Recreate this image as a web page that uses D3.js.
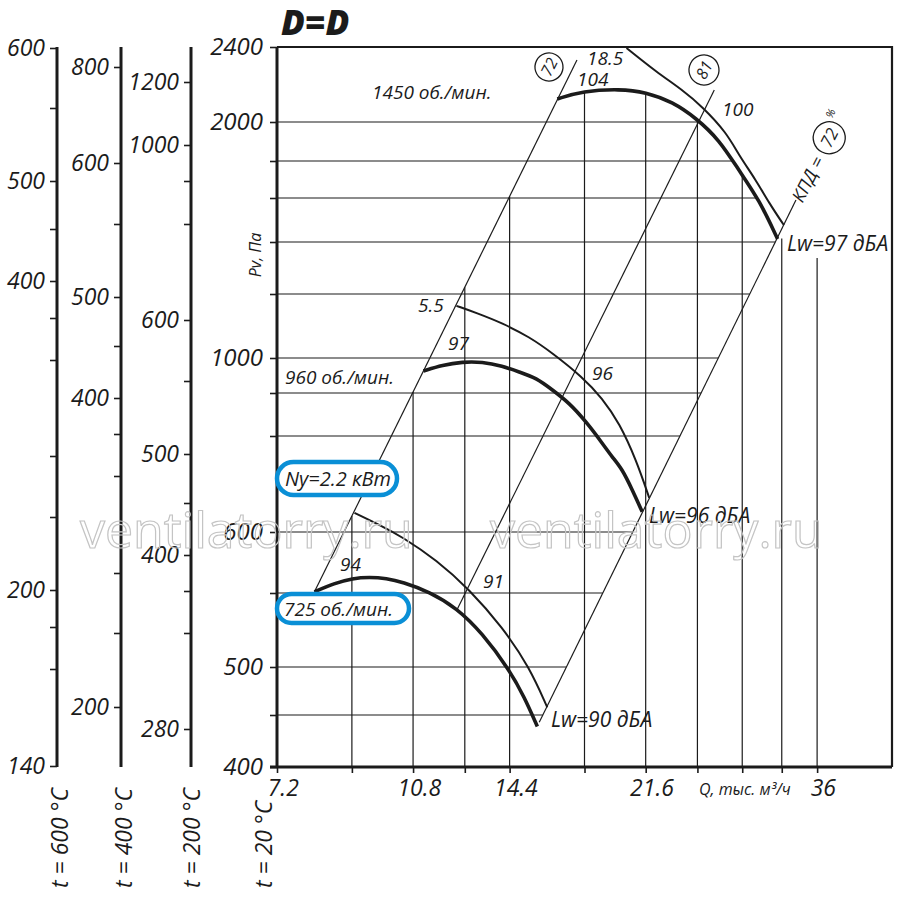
<!DOCTYPE html>
<html>
<head>
<meta charset="utf-8">
<script src="https://cdn.jsdelivr.net/npm/d3@7"></script>
<style>
  body { margin: 0; background: #fff; }
  svg text { font-family: "Open Sans", "DejaVu Sans", sans-serif; font-style: italic; fill: #1b1b1b; }
</style>
</head>
<body>
<script>
//******************************************************************************
// Data ************************************************************************

    var qGrid = [7.2, 9, 10.8, 12.6, 14.4, 18, 21.6, 25.2, 28.8, 32.4, 36]; // Q, thousand m3/h
    var qLabels = [7.2, 10.8, 14.4, 21.6, 36];

    var pvGrid = [400, 450, 500, 550, 600, 800, 900, 1000, 1200, 1400, 1600, 1800, 2000, 2400]; // Pv, Pa (t = 20 C)
    var pvLabels = [400, 500, 600, 1000, 2000, 2400];

    var t600Ticks = [600, 550, 500, 450, 400, 360, 320, 280, 240, 200, 180, 160, 140];
    var t600Labels = [600, 500, 400, 200, 140];
    var t400Ticks = [800, 600, 550, 500, 450, 400, 360, 320, 280, 240, 200];
    var t400Labels = [800, 600, 500, 400, 200];
    var t200Ticks = [1200, 1000, 900, 800, 600, 550, 500, 450, 400, 360, 320, 280];
    var t200Labels = [1200, 1000, 600, 500, 400, 280];

    // pressure curves [Q, Pv]
    var pv1450 = [[16.6,2123],[17.9,2165],[20.0,2176],[21.6,2160],[23.4,2107],[25.1,2021],[26.9,1908],[28.5,1751],[30.3,1591],[32.0,1414]];
    var pv960 = [[11.14,963],[11.79,980],[12.51,989],[13.27,989],[14.09,977],[14.82,960],[15.59,943],[16.35,909],[17.2,877],[18.09,833],[18.98,785],[19.55,756],[20.14,731],[20.75,688],[21.38,642]];
    var pv725 = [[8.05,551],[8.54,558],[9.02,562],[9.48,563],[9.98,562],[10.46,559],[11.34,551],[12.29,540],[13.27,523],[14.39,497],[15.04,469],[15.64,439]];

    // thin curves (motor power 18.5 / 5.5 / 2.2 kW)
    var pw1450 = [[20.4,2395],[22.3,2267],[24.1,2171],[25.6,2080],[27.5,1944],[28.5,1831],[30.0,1697],[31.2,1577],[32.6,1477]];
    var pw960 = [[12.29,1163],[13.04,1141],[14.09,1109],[15.27,1066],[16.35,1016],[17.88,946],[18.98,888],[19.97,830],[21.0,750],[21.83,671]];
    var pw725 = [[9.07,640],[9.77,615],[10.46,596],[11.58,577],[12.77,553],[14.09,527],[15.27,500],[16.11,458]];

    // efficiency rays
    var eta72Left = [[8.05,551],[17.6,2331]];
    var eta81 = [[12.32,539],[26.5,2171]];
    var eta72Right = [[15.73,443],[33.8,1591]];


//******************************************************************************
// Settings ********************************************************************

    var cs = {
        width : 900, height : 904,
        left : 277, right : 892, top : 47, bottom : 767,
        ink : "#1b1b1b",
        blue : "#0a8fd6",
        lwTop : 258, // verticals right of the curves stop under "Lw=97"
    };

    // the pressure rulers of the drawing are uneven: px below the frame top for every tick
    var rulers = {
        pv   : [720,668,620,546,485,389,346,311,247,195,151,114,75,0],
        t600 : [1,61,134,182,234,271,313,409,470,543,580,622,719],
        t400 : [20,116,177,250,299,351,387,429,526,586,660],
        t200 : [35,98,134,177,273,334,407,456,508,544,586,682],
    };


//******************************************************************************
// Init ************************************************************************

    var svg = d3.select("body").append("svg")
        .attr("width", cs.width)
        .attr("height", cs.height);

    function rulerScale(values, offsets){
        return d3.scaleLinear().domain(values).range(offsets.map(o => cs.top + o));
    }

    var x = d3.scaleLog().domain([7.2, 45]).range([cs.left, cs.right]);
    var y = rulerScale(pvGrid, rulers.pv);

    var gGrid = svg.append("g");
    var gDiag = svg.append("g");
    var gCurves = svg.append("g");
    var gAxes = svg.append("g");
    var gText = svg.append("g");

    var smooth = d3.line().x(d => x(d[0])).y(d => y(d[1])).curve(d3.curveBasis);
    var straight = d3.line().x(d => x(d[0])).y(d => y(d[1]));


//******************************************************************************
// Curves **********************************************************************

    function drawCurve(data, w){
        return gCurves.append("path")
            .attr("d", smooth(data))
            .attr("fill", "none")
            .attr("stroke", cs.ink)
            .attr("stroke-width", w);
    }

    [pw725, pw960, pw1450].forEach(d => drawCurve(d, 2));
    drawCurve(pv725, 3.6);
    drawCurve(pv960, 3.6);
    var top1450 = drawCurve(pv1450, 3.6);

    [eta72Left, eta81, eta72Right].forEach(d => {
        gDiag.append("path")
            .attr("d", straight(d))
            .attr("fill", "none")
            .attr("stroke", cs.ink)
            .attr("stroke-width", 1.2);
    });


//******************************************************************************
// Grid (clipped by the rays and the 1450 curve) *******************************

    var node = top1450.node(), len = node.getTotalLength(), pts = [];
    for (var s = 0; s <= len; s += 0.5) pts.push(node.getPointAtLength(s));
    var peak = pts.reduce((a, b) => b.y < a.y ? b : a);
    var head = pts[0], tail = pts[pts.length - 1];

    function yOnCurve(px){
        var best = head;
        pts.forEach(p => { if (Math.abs(p.x - px) < Math.abs(best.x - px)) best = p; });
        return best.y;
    }
    function xOnCurve(py){
        var best = tail;
        pts.forEach(p => { if (p.x >= peak.x && Math.abs(p.y - py) < Math.abs(best.y - py)) best = p; });
        return best.x;
    }
    function rayPx(d){ return d.map(p => [x(p[0]), y(p[1])]); }
    function rayY(d, px){ var r = rayPx(d); return r[0][1] + (px - r[0][0]) * (r[1][1] - r[0][1]) / (r[1][0] - r[0][0]); }
    function rayX(d, py){ var r = rayPx(d); return r[0][0] + (py - r[0][1]) * (r[1][0] - r[0][0]) / (r[1][1] - r[0][1]); }

    qGrid.slice(1).forEach(q => {
        var X = x(q), topY;
        if (X > tail.x + 5) topY = cs.lwTop;
        else {
            topY = rayY(eta72Left, X);
            if (X >= head.x) topY = Math.max(topY, yOnCurve(Math.min(X, tail.x)));
        }
        gGrid.append("line")
            .attr("x1", X).attr("x2", X)
            .attr("y1", cs.bottom).attr("y2", topY)
            .attr("stroke", cs.ink).attr("stroke-width", 1.2);
    });

    pvGrid.slice(1, -1).forEach(p => {
        var Y = y(p);
        var rightX = Y <= tail.y ? xOnCurve(Y) : rayX(eta72Right, Y);
        gGrid.append("line")
            .attr("x1", cs.left).attr("x2", rightX)
            .attr("y1", Y).attr("y2", Y)
            .attr("stroke", cs.ink).attr("stroke-width", 1.2);
    });


//******************************************************************************
// Axes ************************************************************************

    function fmt(labels){ return v => labels.indexOf(v) >= 0 ? String(v) : ""; }

    function addRuler(scale, ticks, labels, xPos, size, pad){
        var g = gAxes.append("g")
            .attr("transform", "translate(" + xPos + ",0)")
            .call(d3.axisLeft(scale).tickValues(ticks).tickSize(7).tickPadding(pad).tickFormat(fmt(labels)));
        g.select(".domain").remove();
        g.append("line")
            .attr("y1", cs.top).attr("y2", cs.bottom)
            .attr("stroke", cs.ink).attr("stroke-width", 3);
        g.selectAll(".tick line").attr("stroke", cs.ink).attr("stroke-width", 1.6);
        g.selectAll(".tick text").attr("font-size", size);
        return g;
    }

    addRuler(rulerScale(t600Ticks, rulers.t600), t600Ticks, t600Labels, 57, 23, 5);
    addRuler(rulerScale(t400Ticks, rulers.t400), t400Ticks, t400Labels, 121, 23, 5);
    addRuler(rulerScale(t200Ticks, rulers.t200), t200Ticks, t200Labels, 191, 23, 5);
    addRuler(y, pvGrid, pvLabels, cs.left, 24, 7);

    var gx = gAxes.append("g")
        .attr("transform", "translate(0," + cs.bottom + ")")
        .call(d3.axisBottom(x).tickValues(qGrid).tickSize(6).tickPadding(7).tickFormat(fmt(qLabels)));
    gx.select(".domain").remove();
    gx.append("line")
        .attr("x1", cs.left - 7).attr("x2", cs.right)
        .attr("stroke", cs.ink).attr("stroke-width", 3);
    gx.selectAll(".tick line").attr("stroke", cs.ink).attr("stroke-width", 1.6);
    gx.selectAll(".tick text").attr("font-size", 23).attr("dx", "0.25em");

    gAxes.append("path") // frame top + right
        .attr("d", "M" + cs.left + "," + cs.top + "H" + cs.right + "V" + cs.bottom)
        .attr("fill", "none").attr("stroke", cs.ink).attr("stroke-width", 2.2);


//******************************************************************************
// Texts ***********************************************************************

    function note(t, px, py, size, g){
        return (g || gText).append("text").attr("x", px).attr("y", py).attr("font-size", size).text(t);
    }

    note("D=D", 281, 35, 35).attr("font-weight", 800);

    [["t = 600 °C", 68], ["t = 400 °C", 132], ["t = 200 °C", 200], ["t = 20 °C", 272]].forEach(d => {
        gText.append("text")
            .attr("transform", "translate(" + d[1] + ",888) rotate(-90)")
            .attr("font-size", 23)
            .text(d[0]);
    });

    gText.append("text")
        .attr("transform", "translate(261,255) rotate(-90)")
        .attr("text-anchor", "middle")
        .attr("font-size", 16)
        .text("Pv, Па");

    note("Q, тыс. м³/ч", 699, 795, 16);

    note("1450 об./мин.", 372, 99, 19);
    note("960 об./мин.", 285, 384, 19);
    note("18.5", 587, 65, 19);
    note("104", 577, 86, 19);
    note("100", 722, 116, 19);
    note("5.5", 418, 312, 19);
    note("97", 448, 350, 19);
    note("96", 592, 380, 19);
    note("94", 340, 571, 19);
    note("91", 483, 588, 19);
    note("Lw=97 дБА", 787, 251, 21);
    note("Lw=96 дБА", 649, 523, 21);
    note("Lw=90 дБА", 551, 727, 21);

    function ring(cx, cy, r, t, angle){
        var g = gText.append("g").attr("transform", "translate(" + cx + "," + cy + ") rotate(" + angle + ")");
        g.append("circle").attr("r", r).attr("fill", "#fff").attr("stroke", cs.ink).attr("stroke-width", 1.3);
        g.append("text").attr("text-anchor", "middle").attr("dy", "0.36em").attr("font-size", 16).text(t);
        return g;
    }
    ring(549, 67, 14, "72", -63);
    ring(704, 70, 15, "81", -63);

    var eff = gText.append("g").attr("transform", "translate(797,201) rotate(-63)");
    eff.append("text").attr("dy", "0.35em").attr("font-size", 18).text("КПД =");
    eff.append("circle").attr("cx", 71).attr("r", 16).attr("fill", "#fff").attr("stroke", cs.ink).attr("stroke-width", 1.3);
    eff.append("text").attr("x", 71).attr("dy", "0.36em").attr("text-anchor", "middle").attr("font-size", 17).text("72");
    eff.append("text").attr("x", 89).attr("y", -6).attr("font-size", 11).text("%");

    function badge(bx, by, w, h, t, tx, ty, size){
        gText.append("rect")
            .attr("x", bx).attr("y", by).attr("width", w).attr("height", h)
            .attr("rx", h / 2)
            .attr("fill", "#fff").attr("stroke", cs.blue).attr("stroke-width", 4.5);
        note(t, tx, ty, size);
    }
    badge(277, 462, 120, 33, "Ny=2.2 кВт", 285, 486, 20);
    badge(277, 594, 132, 29, "725 об./мин.", 284, 616, 19);

    [80, 490].forEach(px => {
        gText.append("text")
            .attr("x", px).attr("y", 548)
            .attr("font-size", 50)
            .style("font-style", "normal")
            .style("fill", "none")
            .attr("stroke", "#c4c4c4").attr("stroke-width", 1.2)
            .text("ventilatorry.ru");
    });
</script>
</body>
</html>
